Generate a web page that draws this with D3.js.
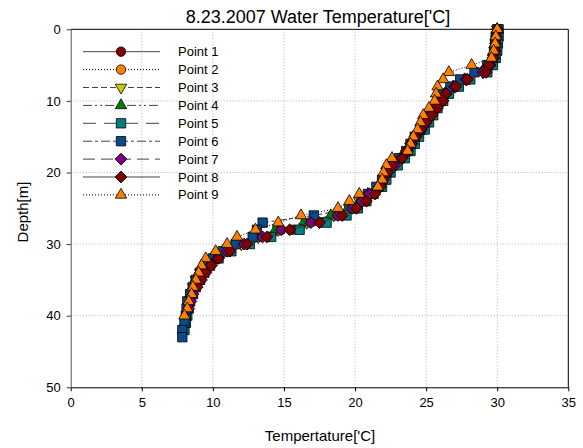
<!DOCTYPE html>
<html>
<head>
<meta charset="utf-8">
<script src="https://cdn.jsdelivr.net/npm/d3@7/dist/d3.min.js"></script>
<style>
  body { margin: 0; background: #fff; }
  text { font-family: Arial, "Liberation Sans", sans-serif; fill: #000; }
</style>
</head>
<body>
<svg id="chart" width="583" height="448"></svg>
<script>
// depth [m] of every reading, one per metre
var depths = [0,1,2,3,4,5,6,7,8,9,10,11,12,13,14,15,16,17,18,19,20,
              21,22,23,24,25,26,27,28,29,30,31,32,33,34,35,36,37,38,39,40,41,42,43];

// temperature ['C] per point (index = depth)
var point1 = [30.0,29.95,29.9,29.85,29.8,29.6,29.3,28.0,27.2,26.5,26.1,25.7,25.4,25.1,24.8,24.4,24.1,23.8,23.4,22.9,22.4,22.1,21.8,21.1,20.5,19.9,19.0,17.6,15.6,13.9,12.4,11.1,10.3,9.7,9.3,9.0,8.8,8.6];
var point2 = [30.05,30.0,29.95,29.85,29.75,29.55,29.1,27.9,27.1,26.5,26.0,25.7,25.3,25.0,24.7,24.3,24.0,23.7,23.3,22.8,22.3,22.0,21.7,21.0,20.4,19.7,18.6,16.8,14.8,13.4,12.1,10.9,10.1,9.5,9.1,8.8,8.6,8.45];
var point3 = [30.0,29.95,29.9,29.8,29.7,29.5,29.0,27.8,27.0,26.4,26.0,25.6,25.3,25.0,24.7,24.3,24.0,23.7,23.3,22.8,22.3,22.0,21.6,21.0,20.3,19.6,18.5,16.6,14.6,13.2,12.0,10.8,10.0,9.5,9.1,8.8,8.6,8.45,8.3];
var point4 = [30.0,29.9,29.85,29.8,29.7,29.45,28.9,27.7,26.9,26.3,25.9,25.6,25.2,24.9,24.6,24.2,23.9,23.6,23.2,22.7,22.2,21.9,21.6,20.9,20.3,19.5,18.3,16.4,14.4,13.0,11.9,10.7,9.9,9.4,9.0,8.75,8.55,8.4,8.25];
var point5 = [30.1,30.1,30.05,30.0,29.9,29.7,29.3,28.1,27.3,26.6,26.2,25.8,25.5,25.2,24.9,24.5,24.2,23.9,23.5,23.0,22.5,22.2,21.9,21.3,20.8,20.2,19.4,18.0,16.1,14.1,12.6,11.3,10.4,9.8,9.4,9.1,8.8,8.6,8.4,8.3,8.2,8.1,8.0];
var point6 = [30.0,29.9,29.85,29.8,29.7,29.3,28.4,27.4,26.7,26.2,25.9,25.5,25.2,24.9,24.6,24.2,23.9,23.6,23.1,22.6,22.2,21.9,21.5,20.9,20.6,19.9,17.1,13.5,13.1,12.8,11.6,10.7,10.0,9.5,9.1,8.8,8.6,8.4,8.2,8.15,8.1,8.0,7.85,7.85];
var point7 = [30.0,29.95,29.9,29.85,29.75,29.5,29.0,27.8,27.0,26.4,26.0,25.6,25.3,25.0,24.7,24.3,24.0,23.7,23.3,22.8,22.3,22.0,21.7,21.0,20.5,19.8,18.8,16.9,14.8,13.5,12.2,11.0,10.3,9.8,9.4,9.1,8.8,8.6,8.45,8.3];
var point8 = [30.0,29.95,29.9,29.85,29.7,29.4,29.2,27.9,27.1,26.4,26.2,25.8,25.4,25.0,24.6,24.2,23.9,23.6,23.3,22.6,22.3,22.0,21.8,21.4,20.8,20.1,19.1,17.5,15.4,13.8,12.4,11.2,10.4,9.9,9.5,9.2,8.9];
var point9 = [30.0,29.9,29.85,29.75,29.6,28.2,26.6,26.2,25.8,25.7,25.6,25.2,24.8,24.6,24.4,24.1,23.9,23.7,22.6,22.2,22.0,21.9,21.6,20.3,19.6,18.8,16.2,14.6,13.0,11.7,11.0,10.2,9.5,9.2,9.0,8.8,8.6,8.5,8.3,8.2,8.0];

var seriesNames = ["Point 1","Point 2","Point 3","Point 4","Point 5","Point 6","Point 7","Point 8","Point 9"];
var xTicks = [0,5,10,15,20,25,30,35];
var yTicks = [0,10,20,30,40,50];

// look of each point: marker, fill, line dash
var styles = [
  {sym: "circle",  fill: "#800000", dash: null},
  {sym: "circle",  fill: "#ff8000", dash: "1,2"},
  {sym: "tridown", fill: "#cccc00", dash: "6,3"},
  {sym: "triup",   fill: "#008000", dash: "9,3,2,3,2,3"},
  {sym: "square",  fill: "#008080", dash: "13,8"},
  {sym: "square",  fill: "#0a4a8a", dash: "9,3,3,3"},
  {sym: "diamond", fill: "#800080", dash: "12,6"},
  {sym: "diamond", fill: "#800000", dash: null},
  {sym: "triup",   fill: "#ff8000", dash: "1,2"}
];
var allPoints = [point1,point2,point3,point4,point5,point6,point7,point8,point9];

var svg = d3.select("#chart");
var x = d3.scaleLinear().domain([0, 35]).range([70.7, 568.3]);
var y = d3.scaleLinear().domain([0, 50]).range([29.3, 387.3]);

// grid
var grid = svg.append("g");
grid.selectAll(".gx").data(xTicks.slice(1, -1)).enter().append("line")
  .attr("x1", d => x(d)).attr("x2", d => x(d))
  .attr("y1", y(0)).attr("y2", y(50))
  .attr("stroke", "#b4b4b4").attr("stroke-dasharray", "1,2");
grid.selectAll(".gy").data(yTicks.slice(1, -1)).enter().append("line")
  .attr("x1", x(0)).attr("x2", x(35))
  .attr("y1", d => y(d)).attr("y2", d => y(d))
  .attr("stroke", "#b4b4b4").attr("stroke-dasharray", "1,2");

// frame top / right
svg.append("line").attr("x1", x(0)).attr("x2", x(35)).attr("y1", y(0)).attr("y2", y(0)).attr("stroke", "#000");
svg.append("line").attr("x1", x(35)).attr("x2", x(35)).attr("y1", y(0)).attr("y2", y(50)).attr("stroke", "#000");

// axes
var xAxis = svg.append("g").attr("transform", "translate(0," + y(50) + ")")
  .call(d3.axisBottom(x).tickValues(xTicks).tickSize(4).tickSizeOuter(0).tickPadding(6));
var yAxis = svg.append("g").attr("transform", "translate(" + x(0) + ",0)")
  .call(d3.axisLeft(y).tickValues(yTicks).tickSize(4).tickSizeOuter(0).tickPadding(6));
xAxis.selectAll("text").attr("font-size", 13).attr("font-family", "Arial, Liberation Sans, sans-serif");
yAxis.selectAll("text").attr("font-size", 13).attr("font-family", "Arial, Liberation Sans, sans-serif");
yAxis.select(".domain").attr("stroke", "#555");
yAxis.selectAll(".tick line").attr("stroke", "#333");

// symbols
function symbolPath(kind) {
  if (kind === "circle") return d3.symbol(d3.symbolCircle, 70)();
  if (kind === "square") return d3.symbol(d3.symbolSquare, 88)();
  if (kind === "diamond") return d3.symbol(d3.symbolSquare, 70)();
  return d3.symbol(d3.symbolTriangle, 56)();
}
function symbolRotate(kind) {
  if (kind === "diamond") return 45;
  if (kind === "tridown") return 180;
  return 0;
}

var line = d3.line().x(d => x(d.t)).y(d => y(d.d));
var plot = svg.append("g");
allPoints.forEach(function(temps, i) {
  var st = styles[i];
  var rows = temps.map((t, k) => ({t: t, d: depths[k]}));
  var g = plot.append("g");
  g.append("path").datum(rows).attr("d", line)
    .attr("fill", "none").attr("stroke", st.dash === "1,2" ? "#000" : "#333")
    .attr("stroke-width", 1)
    .attr("stroke-dasharray", st.dash);
  g.selectAll("path.m").data(rows).enter().append("path").attr("class", "m")
    .attr("d", symbolPath(st.sym))
    .attr("transform", d => "translate(" + x(d.t) + "," + y(d.d) + ") rotate(" + symbolRotate(st.sym) + ")")
    .attr("fill", st.fill).attr("stroke", "#000").attr("stroke-width", 0.8);
});

// legend
var legend = svg.append("g");
seriesNames.forEach(function(name, i) {
  var st = styles[i];
  var ly = 51.7 + i * 17.9;
  legend.append("line").attr("x1", 83).attr("x2", 160).attr("y1", ly).attr("y2", ly)
    .attr("stroke", st.dash === "1,2" ? "#000" : "#444").attr("stroke-dasharray", st.dash);
  legend.append("path").attr("d", symbolPath(st.sym))
    .attr("transform", "translate(121," + ly + ") rotate(" + symbolRotate(st.sym) + ")")
    .attr("fill", st.fill).attr("stroke", "#000").attr("stroke-width", 0.8);
  legend.append("text").attr("x", 178).attr("y", ly + 4.5).attr("font-size", 13).text(name);
});

// titles
svg.append("text").attr("x", 318).attr("y", 23).attr("text-anchor", "middle")
  .attr("font-size", 18).text("8.23.2007 Water Temperature['C]");
svg.append("text").attr("x", 320).attr("y", 441).attr("text-anchor", "middle")
  .attr("font-size", 15).text("Tempertature['C]");
svg.append("text").attr("transform", "translate(28,212) rotate(-90)").attr("text-anchor", "middle")
  .attr("font-size", 15).text("Depth[m]");
</script>
</body>
</html>
